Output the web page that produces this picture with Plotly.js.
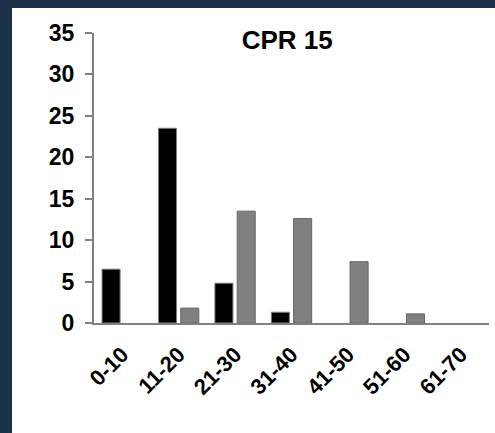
<!DOCTYPE html>
<html>
<head>
<meta charset="utf-8">
<script src="https://cdn.plot.ly/plotly-3.0.1.min.js"></script>
<style>
  html, body { margin: 0; padding: 0; background: #1d3149; width: 495px; height: 433px; overflow: hidden; }
  #chart { position: absolute; left: 12px; top: 8px; width: 483px; height: 425px; background: #ffffff; }
</style>
</head>
<body>
<div id="chart"></div>
<script>
const categories = ["0-10", "11-20", "21-30", "31-40", "41-50", "51-60", "61-70"];
// null = no bar drawn for that class
const seriesBlack = [6.5, 23.5, 4.8, 1.3, null, null, null];
const seriesGray = [null, 1.8, 13.5, 12.6, 7.4, 1.1, null];
const chartTitle = "CPR 15";

const traces = [
  {
    type: "bar", x: categories, y: seriesBlack, name: "A",
    marker: { color: "#000000", line: { color: "#7f7f7f", width: 1 } }
  },
  {
    type: "bar", x: categories, y: seriesGray, name: "B",
    marker: { color: "#808080", line: { color: "#666666", width: 1 } }
  }
];

const layout = {
  width: 483, height: 425,
  margin: { l: 82, r: 6, t: 25, b: 110 },
  paper_bgcolor: "#ffffff", plot_bgcolor: "#ffffff",
  showlegend: false,
  barmode: "group", bargap: 0.21, bargroupgap: 0.19,
  title: {
    text: chartTitle,
    font: { family: "Arial, Liberation Sans", size: 26, color: "#000000", weight: "bold" },
    xref: "paper", x: 0.489, xanchor: "center",
    yref: "container", y: 0.926, yanchor: "middle"
  },
  xaxis: {
    type: "category", range: [-0.5, 6.5],
    showline: true, linecolor: "#808080", linewidth: 2,
    ticks: "", showgrid: false, zeroline: false,
    tickangle: -45, ticklabelstandoff: 8,
    tickfont: { family: "Arial, Liberation Sans", size: 22, color: "#000000", weight: "bold" }
  },
  yaxis: {
    range: [0, 35], dtick: 5, tick0: 0,
    showline: true, linecolor: "#808080", linewidth: 2,
    ticks: "outside", ticklen: 7, tickwidth: 2, tickcolor: "#808080",
    showgrid: false, zeroline: false, ticklabelstandoff: 6,
    tickfont: { family: "Arial, Liberation Sans", size: 23, color: "#000000", weight: "bold" }
  }
};

Plotly.newPlot("chart", traces, layout, { displayModeBar: false, staticPlot: true });
</script>
</body>
</html>
